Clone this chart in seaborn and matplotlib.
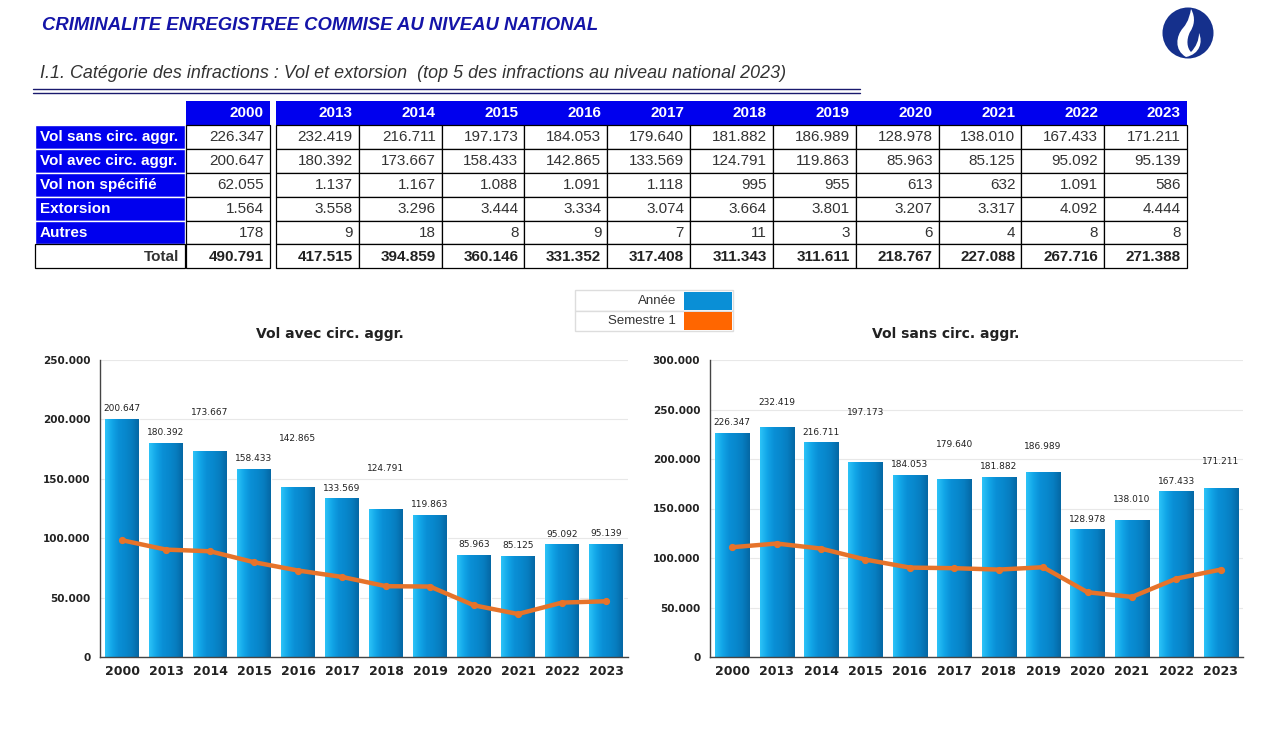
import numpy as np
import pandas as pd
import matplotlib
matplotlib.use('Agg')
import matplotlib.pyplot as plt
import seaborn as sns
from matplotlib.patches import Rectangle, Circle, PathPatch
from matplotlib.path import Path
from matplotlib.colors import LinearSegmentedColormap
from matplotlib.ticker import FuncFormatter, FixedLocator

# ---------------- data ----------------
years = ['2000', '2013', '2014', '2015', '2016', '2017', '2018', '2019', '2020', '2021', '2022', '2023']
categories = ['Vol sans circ. aggr.', 'Vol avec circ. aggr.', 'Vol non spécifié', 'Extorsion', 'Autres']
vol_sans = [226347, 232419, 216711, 197173, 184053, 179640, 181882, 186989, 128978, 138010, 167433, 171211]
vol_avec = [200647, 180392, 173667, 158433, 142865, 133569, 124791, 119863, 85963, 85125, 95092, 95139]
vol_non = [62055, 1137, 1167, 1088, 1091, 1118, 995, 955, 613, 632, 1091, 586]
extorsion = [1564, 3558, 3296, 3444, 3334, 3074, 3664, 3801, 3207, 3317, 4092, 4444]
autres = [178, 9, 18, 8, 9, 7, 11, 3, 6, 4, 8, 8]
totals = [490791, 417515, 394859, 360146, 331352, 317408, 311343, 311611, 218767, 227088, 267716, 271388]
sem1_avec = [98300, 90400, 89000, 79800, 72800, 67400, 59600, 59300, 43500, 36200, 45800, 46900]
sem1_sans = [110900, 114600, 109500, 98400, 90300, 89700, 88300, 90700, 65400, 60700, 79200, 88300]
table_rows = [vol_sans, vol_avec, vol_non, extorsion, autres]

title_main = 'CRIMINALITE ENREGISTREE COMMISE AU NIVEAU NATIONAL'
subtitle = 'I.1. Catégorie des infractions : Vol et extorsion  (top 5 des infractions au niveau national 2023)'
legend_labels = ['Année', 'Semestre 1']

# ---------------- style ----------------
W, H = 1279, 742
sns.set_style('white')
plt.rcParams['font.family'] = ['DejaVu Sans']
TABLE_FONT = ['Liberation Sans', 'DejaVu Sans']
BLUE_CELL = '#0000EE'
BAR_COLOR = '#0A8FD6'
LINE_COLOR = '#E6732A'
LEG_ORANGE = '#FF6600'
TITLE_BLUE = '#1414A8'

# staggered label flags (label pushed above previous label)
raised_avec = [False, False, True, False, True, False, True, False, False, False, False, False]
raised_sans = [False, True, False, True, False, True, False, True, False, True, False, True]


def fmt(v):
    return f'{int(v):,}'.replace(',', '.')


fig = plt.figure(figsize=(W / 100, H / 100), dpi=100)
fig.patch.set_facecolor('white')

# overlay axes in pixel coordinates
ov = fig.add_axes([0, 0, 1, 1])
ov.set_xlim(0, W)
ov.set_ylim(H, 0)
ov.axis('off')
ov.patch.set_alpha(0)

# titles
ov.text(42, 25, title_main, ha='left', va='center', fontsize=13.3, fontweight='bold',
        fontstyle='italic', color=TITLE_BLUE, family=TABLE_FONT)
ov.text(40, 73, subtitle, ha='left', va='center', fontsize=12.9, fontstyle='italic',
        color='#333333', family=TABLE_FONT)
ov.plot([33, 860], [89, 89], color='#1a1a6e', lw=1.0)
ov.plot([33, 860], [92.5, 92.5], color='#1a1a6e', lw=1.0)

# logo
ov.add_patch(Circle((1188, 33), 25.5, fc='#15308C', ec='none'))
verts = [(1186, 57), (1174, 50), (1176, 36), (1183, 28), (1189, 21), (1190, 14), (1191, 9),
         (1196, 18), (1194, 26), (1190, 32), (1186, 40), (1187, 48), (1191, 52),
         (1196, 47), (1199, 40), (1199, 33), (1203, 42), (1200, 54), (1186, 57)]
codes = [Path.MOVETO] + [Path.CURVE4] * 18
ov.add_patch(PathPatch(Path(verts, codes), fc='white', ec='none'))

# ---------------- table ----------------
top = 101
rh = 23.9
lab_x0, lab_w = 35, 150
c2000_x0, c2000_w = 186, 84
c_x0 = 276
c_w = (1187 - 276) / 11
col_left = [c2000_x0] + [c_x0 + k * c_w for k in range(11)]
col_width = [c2000_w] + [c_w] * 11

ov.add_patch(Rectangle((c2000_x0, top), c2000_w, rh, fc=BLUE_CELL, ec='none'))
ov.add_patch(Rectangle((c_x0, top), 11 * c_w, rh, fc=BLUE_CELL, ec='none'))
for j, y in enumerate(years):
    ov.text(col_left[j] + col_width[j] - 6, top + rh / 2 + 0.5, y, ha='right', va='center',
            fontsize=11, fontweight='bold', color='white', family=TABLE_FONT)

for r, cat in enumerate(categories):
    y0 = top + rh * (r + 1)
    ov.add_patch(Rectangle((lab_x0, y0), lab_w, rh, fc=BLUE_CELL, ec='white', lw=1))
    ov.text(lab_x0 + 5, y0 + rh / 2 + 0.5, cat, ha='left', va='center', fontsize=11,
            fontweight='bold', color='white', family=TABLE_FONT)
    for j in range(len(years)):
        ov.add_patch(Rectangle((col_left[j], y0), col_width[j], rh, fc='white', ec='black', lw=0.9))
        ov.text(col_left[j] + col_width[j] - 6, y0 + rh / 2 + 0.5, fmt(table_rows[r][j]),
                ha='right', va='center', fontsize=11, color='#333333', family=TABLE_FONT)

y0 = top + rh * 6
ov.add_patch(Rectangle((lab_x0, y0), lab_w, rh, fc='white', ec='black', lw=0.9))
ov.text(lab_x0 + lab_w - 6, y0 + rh / 2 + 0.5, 'Total', ha='right', va='center', fontsize=11,
        fontweight='bold', color='#333333', family=TABLE_FONT)
for j in range(len(years)):
    ov.add_patch(Rectangle((col_left[j], y0), col_width[j], rh, fc='white', ec='black', lw=0.9))
    ov.text(col_left[j] + col_width[j] - 6, y0 + rh / 2 + 0.5, fmt(totals[j]), ha='right',
            va='center', fontsize=11, fontweight='bold', color='#222222', family=TABLE_FONT)

# ---------------- legend ----------------
ov.add_patch(Rectangle((575, 290), 158, 20.5, fc='white', ec='#dddddd', lw=1))
ov.add_patch(Rectangle((575, 310.5), 158, 20.5, fc='white', ec='#dddddd', lw=1))
ov.add_patch(Rectangle((684, 291.5), 48, 18, fc=BAR_COLOR, ec='none'))
ov.add_patch(Rectangle((684, 312), 48, 18, fc=LEG_ORANGE, ec='none'))
ov.text(676, 300.5, legend_labels[0], ha='right', va='center', fontsize=9.5, color='#333333',
        family=TABLE_FONT)
ov.text(676, 321, legend_labels[1], ha='right', va='center', fontsize=9.5, color='#333333',
        family=TABLE_FONT)

# ---------------- charts ----------------
grad_cmap = LinearSegmentedColormap.from_list(
    'cyl', ['#2cc3f7', '#12a6e8', '#0a8fd6', '#0888cd', '#077dc0', '#0568a4'])
grad = np.linspace(0, 1, 64).reshape(1, -1)


def draw_chart(rect, values, sem, title, ymax, raised, title_x):
    ax = fig.add_axes(rect)
    df = pd.DataFrame({'Année': years, 'valeur': values})
    sns.barplot(data=df, x='Année', y='valeur', color=BAR_COLOR, saturation=1, width=0.77,
                ax=ax, zorder=2, errorbar=None)
    for p in list(ax.patches):
        x, w, h = p.get_x(), p.get_width(), p.get_height()
        im = ax.imshow(grad, cmap=grad_cmap, extent=[x, x + w, 0, h], aspect='auto',
                       origin='lower', zorder=2.5, interpolation='bilinear')
        im.set_clip_path(p)
    dfl = pd.DataFrame({'Année': years, 'valeur': sem})
    sns.pointplot(data=dfl, x='Année', y='valeur', color=LINE_COLOR, markers='o',
                  markersize=2.8, linewidth=3.2, errorbar=None, ax=ax, zorder=5)
    ax.set_xlim(-0.5, len(years) - 0.5)
    ax.set_ylim(0, ymax)
    ax.set_xlabel('')
    ax.set_ylabel('')
    ax.set_yticks(np.arange(0, ymax + 1, 50000))
    ax.yaxis.set_major_formatter(FuncFormatter(lambda v, _: fmt(v)))
    ax.yaxis.grid(True, color='#e8e8e8', lw=0.8)
    ax.set_axisbelow(True)
    for s in ['top', 'right']:
        ax.spines[s].set_visible(False)
    for s in ['left', 'bottom']:
        ax.spines[s].set_color('#444444')
        ax.spines[s].set_linewidth(1)
    ax.tick_params(axis='x', which='major', length=0, labelsize=9, pad=6, labelcolor='#222222')
    ax.xaxis.set_minor_locator(FixedLocator(np.arange(-0.5, len(years), 1.0)))
    ax.tick_params(axis='x', which='minor', length=5, color='#444444', width=1)
    ax.tick_params(axis='y', length=4, color='#444444', labelsize=7.5, labelcolor='#222222', pad=3)
    for lbl in ax.get_xticklabels() + ax.get_yticklabels():
        lbl.set_fontweight('bold')
    # data labels
    ppu = rect[3] * H / ymax
    prev = None
    for i, v in enumerate(values):
        c = v * ppu + 10
        if raised[i] and prev is not None:
            c = prev + 20
        prev = c
        ax.text(i, c / ppu, fmt(v), ha='center', va='center', fontsize=6.5, color='#222222',
                zorder=6)
    ov.text(title_x, 334, title, ha='center', va='center', fontsize=10, fontweight='bold',
            color='#222222')
    return ax


draw_chart([100 / W, 1 - 657 / H, 528 / W, 297 / H], vol_avec, sem1_avec,
           'Vol avec circ. aggr.', 250000, raised_avec, 330)
draw_chart([710 / W, 1 - 657 / H, 533 / W, 297 / H], vol_sans, sem1_sans,
           'Vol sans circ. aggr.', 300000, raised_sans, 946)

fig.savefig('out.png', dpi=100, facecolor='white')
